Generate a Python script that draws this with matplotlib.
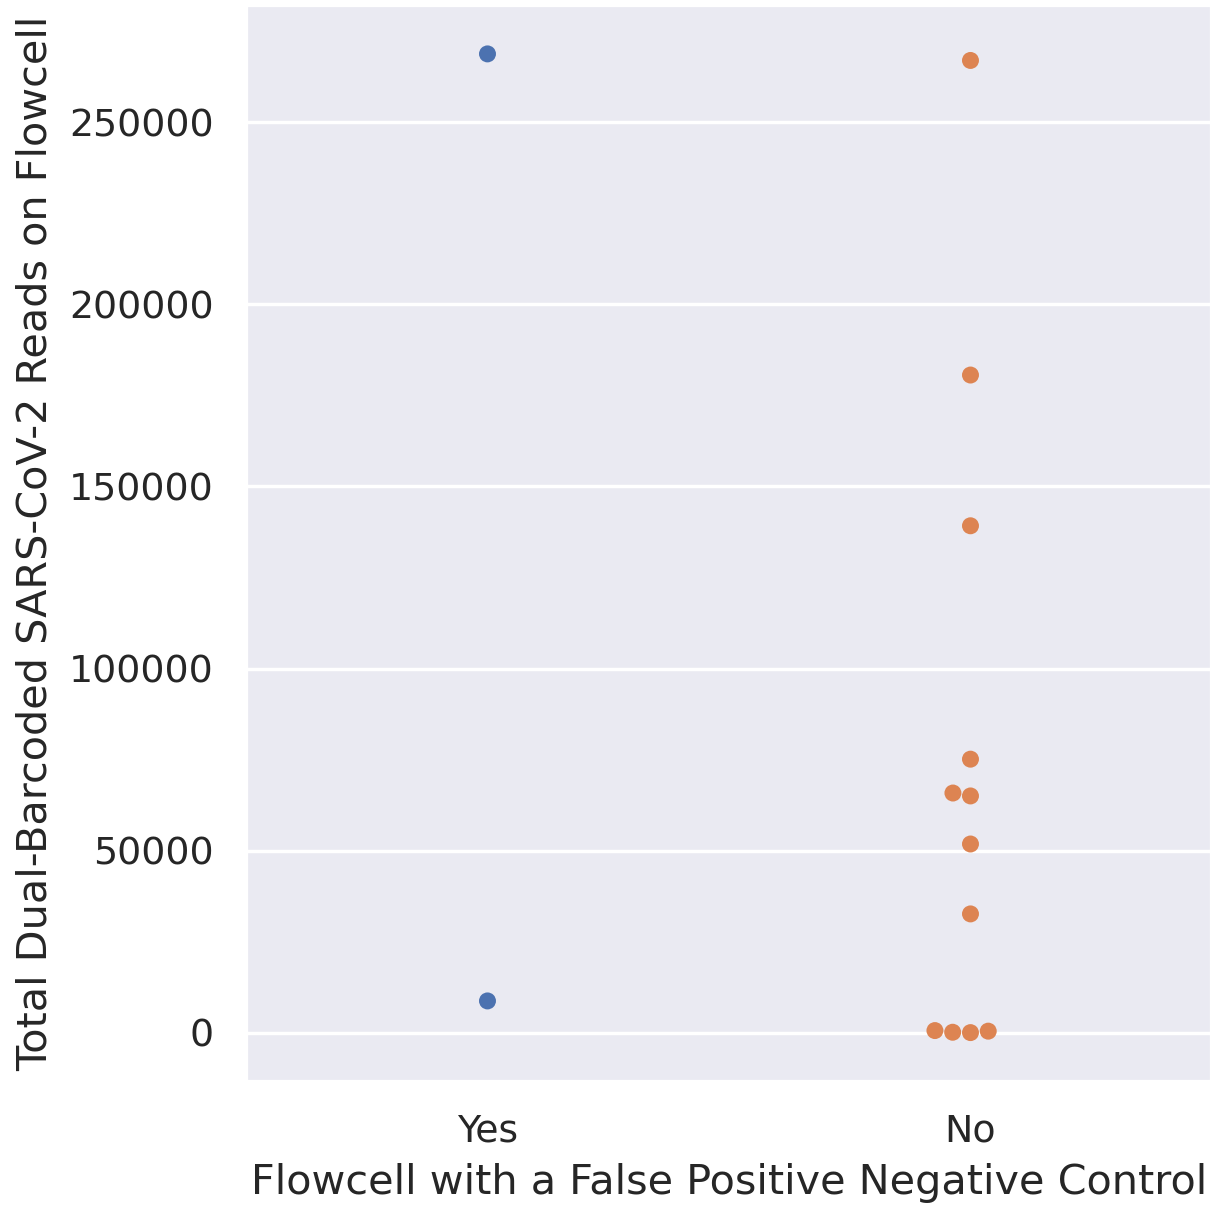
import matplotlib
matplotlib.use("Agg")
import matplotlib.pyplot as plt
import pandas as pd
import seaborn as sns

# reads per flowcell, grouped by whether the negative control was a false positive
yes_reads = [268800, 8700]
no_reads = [267000, 180600, 139200, 75100, 65800, 65000, 51800, 32600, 0, 100, 400, 560]
groups = ["Yes", "No"]

df = pd.DataFrame({
    "fp": ["Yes"] * len(yes_reads) + ["No"] * len(no_reads),
    "reads": yes_reads + no_reads,
})

sns.set_theme(style="darkgrid", font_scale=1.015)
fig = plt.figure(figsize=(5.0, 4.955), dpi=244.4)
ax = fig.add_axes([0.2013, 0.1069, 0.7905, 0.889])

sns.swarmplot(data=df, x="fp", y="reads", hue="fp", order=groups,
              hue_order=groups, palette="deep", size=5, legend=False, ax=ax)
ax.set_xlabel("Flowcell with a False Positive Negative Control")
ax.set_ylabel("Total Dual-Barcoded SARS-CoV-2 Reads on Flowcell")

fig.savefig("out.png", dpi=244.4)
